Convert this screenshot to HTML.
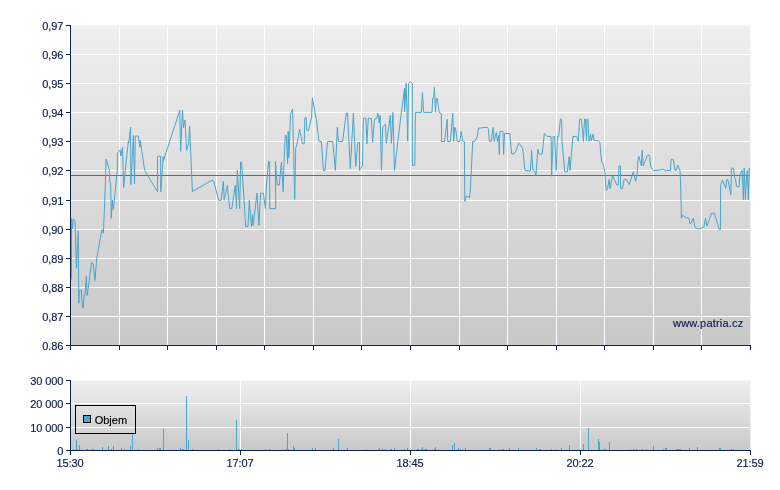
<!DOCTYPE html>
<html lang="cs"><head><meta charset="utf-8"><title>Graf</title>
<style>html,body{margin:0;padding:0;background:#fff;}body{width:780px;height:490px;overflow:hidden;}svg{display:block;}text{font-family:"Liberation Sans",sans-serif;font-size:11px;fill:#081c4a;stroke:#081c4a;stroke-width:0.15px;}</style></head><body>
<svg width="780" height="490" viewBox="0 0 780 490">
<defs><linearGradient id="g1" x1="0" y1="0" x2="0" y2="1"><stop offset="0" stop-color="#efefef"/><stop offset="1" stop-color="#c8c8c8"/></linearGradient>
<linearGradient id="g2" x1="0" y1="0" x2="0" y2="1"><stop offset="0" stop-color="#efefef"/><stop offset="1" stop-color="#c8c8c8"/></linearGradient></defs>
<rect x="0" y="0" width="780" height="490" fill="#fff"/>
<rect x="70" y="25.5" width="680.3" height="320.5" fill="url(#g1)"/>
<g fill="#fff"><rect x="119" y="25" width="1" height="320" /><rect x="167" y="25" width="1" height="320" /><rect x="216" y="25" width="1" height="320" /><rect x="264" y="25" width="1" height="320" /><rect x="313" y="25" width="1" height="320" /><rect x="361" y="25" width="1" height="320" /><rect x="410" y="25" width="1" height="320" /><rect x="459" y="25" width="1" height="320" /><rect x="507" y="25" width="1" height="320" /><rect x="556" y="25" width="1" height="320" /><rect x="604" y="25" width="1" height="320" /><rect x="653" y="25" width="1" height="320" /><rect x="701" y="25" width="1" height="320" /><rect x="70" y="54" width="680" height="1" /><rect x="70" y="83" width="680" height="1" /><rect x="70" y="112" width="680" height="1" /><rect x="70" y="141" width="680" height="1" /><rect x="70" y="170" width="680" height="1" /><rect x="70" y="200" width="680" height="1" /><rect x="70" y="229" width="680" height="1" /><rect x="70" y="258" width="680" height="1" /><rect x="70" y="287" width="680" height="1" /><rect x="70" y="316" width="680" height="1" /></g>
<rect x="70" y="175" width="680" height="1" fill="#cf4040"/>
<path d="M71.4,279.5 L71.6,218.5 L72.5,229.0 L73.2,219.0 L75.0,220.5 L76.4,268.3 L78.2,231.0 L78.8,303.2 L79.3,290.4 L81.4,290.4 L82.4,307.6 L83.4,307.6 L84.0,296.0 L85.0,294.5 L86.3,276.2 L87.2,295.5 L91.6,262.2 L93.2,263.7 L95.0,280.4 L96.8,257.6 L101.9,229.6 L103.4,233.2 L104.7,201.4 L106.2,159.0 L109.3,170.0 L109.8,183.0 L110.7,183.5 L111.2,218.3 L112.4,200.0 L113.4,209.6 L116.5,178.3 L117.3,170.0 L117.3,153.3 L120.1,149.7 L120.9,156.0 L122.5,147.2 L123.7,187.6 L125.7,167.0 L128.3,141.5 L128.8,143.0 L130.6,127.0 L130.9,184.5 L133.4,135.4 L134.5,184.0 L135.3,136.0 L138.3,136.0 L139.9,147.2 L140.3,140.5 L144.7,170.6 L157.5,191.7 L157.5,156.2 L160.6,156.2 L160.8,191.7 L163.2,156.5 L163.5,160.5 L179.8,110.2 L180.6,151.3 L182.5,110.2 L183.5,127.8 L185.0,120.0 L186.6,150.3 L188.6,143.5 L189.6,126.3 L192.4,191.5 L211.9,180.3 L213.7,181.0 L218.6,200.3 L221.1,200.3 L223.4,181.3 L224.2,200.3 L227.3,185.4 L229.7,208.7 L231.8,208.7 L235.3,185.3 L236.5,208.6 L237.3,170.3 L239.7,208.6 L240.6,162.0 L241.6,162.0 L245.7,226.5 L248.0,226.5 L249.3,200.4 L251.4,226.5 L252.4,214.7 L253.1,225.5 L257.0,193.2 L258.9,225.5 L260.6,193.2 L263.4,193.2 L265.4,208.6 L266.5,184.0 L268.6,161.5 L269.6,161.5 L269.8,208.6 L275.7,208.6 L275.4,161.5 L277.3,185.0 L279.3,185.0 L281.4,162.0 L283.2,191.7 L284.0,161.5 L285.3,135.2 L286.3,135.5 L287.6,163.5 L288.2,131.5 L288.9,157.5 L290.6,113.6 L292.6,109.2 L294.7,199.4 L295.7,148.2 L296.8,145.0 L299.6,129.4 L302.4,143.7 L304.2,143.7 L304.8,118.0 L306.2,117.6 L306.8,130.4 L308.6,130.4 L311.6,117.0 L312.4,98.0 L316.8,122.2 L318.8,141.2 L321.4,141.5 L323.4,170.5 L325.0,170.5 L327.5,141.5 L332.7,141.5 L335.4,170.5 L337.3,127.3 L338.5,141.5 L342.6,141.5 L346.3,113.0 L347.5,113.0 L350.3,168.5 L353.4,113.4 L355.7,166.4 L357.8,142.3 L359.5,142.3 L359.5,170.5 L362.4,166.0 L363.4,118.2 L365.9,118.2 L366.9,143.8 L368.3,118.2 L371.4,118.7 L372.6,142.3 L374.5,119.2 L377.0,118.2 L377.5,113.4 L378.6,115.0 L379.1,122.8 L380.1,115.6 L381.5,170.5 L382.7,127.0 L385.4,124.4 L386.3,143.3 L390.3,115.5 L391.4,143.3 L392.9,112.4 L394.5,170.5 L399.8,125.0 L404.5,88.3 L404.5,112.0 L406.2,83.4 L407.7,141.3 L408.6,83.7 L410.4,81.4 L412.3,83.7 L412.4,165.4 L414.8,165.4 L415.4,112.4 L421.4,112.4 L422.4,92.4 L423.7,112.4 L432.0,112.4 L432.7,98.4 L433.7,98.4 L434.4,87.3 L435.5,112.4 L436.3,98.4 L437.3,98.4 L439.3,112.8 L441.3,113.6 L441.6,141.5 L444.5,141.5 L447.2,119.3 L447.7,141.5 L450.4,141.5 L452.7,113.3 L453.7,141.5 L454.7,127.2 L455.5,128.0 L457.3,141.5 L459.8,141.5 L461.1,131.3 L462.7,141.0 L464.4,141.5 L464.8,201.4 L466.5,196.0 L469.6,197.6 L470.6,185.8 L472.7,141.5 L474.7,141.5 L477.3,136.4 L478.5,128.2 L487.4,127.2 L488.4,129.2 L489.4,141.3 L491.1,141.5 L493.1,127.2 L494.1,141.5 L496.3,132.3 L497.3,141.4 L498.6,135.4 L499.3,154.5 L499.8,131.4 L502.9,131.4 L503.6,154.5 L504.5,133.5 L509.8,133.5 L511.6,154.0 L514.2,153.5 L516.3,150.4 L518.6,143.2 L519.3,143.5 L522.7,148.3 L525.0,170.5 L530.4,171.0 L531.6,150.4 L532.9,170.0 L534.7,171.0 L535.9,176.2 L537.8,149.4 L539.1,154.0 L542.2,154.0 L544.3,133.5 L547.3,136.5 L551.1,136.5 L551.6,176.2 L553.2,136.5 L554.7,136.5 L556.2,170.5 L557.5,136.5 L558.6,136.5 L560.4,119.2 L561.6,119.2 L562.0,141.0 L564.7,171.5 L567.3,172.0 L569.1,156.7 L570.1,170.5 L572.9,136.3 L576.8,136.8 L578.3,141.4 L579.6,119.2 L581.4,119.2 L583.4,141.4 L584.5,119.2 L585.5,119.2 L586.5,141.0 L587.0,119.2 L587.8,119.2 L589.1,141.4 L590.6,134.2 L591.3,141.0 L593.0,134.2 L594.0,140.4 L598.3,140.7 L599.8,142.4 L601.6,162.0 L602.9,163.5 L605.0,172.7 L606.0,190.6 L607.5,189.0 L609.1,179.4 L610.1,188.6 L612.5,175.6 L616.8,185.0 L618.3,185.0 L619.0,166.0 L620.4,166.0 L620.7,188.6 L622.4,188.6 L624.2,179.4 L626.8,179.9 L629.3,184.5 L633.4,171.5 L635.7,181.4 L637.1,174.7 L637.8,160.4 L638.8,156.3 L641.4,166.0 L642.2,150.1 L643.2,166.0 L647.4,155.3 L649.5,155.3 L650.7,166.8 L653.5,170.6 L659.5,170.2 L662.9,169.1 L665.5,170.8 L670.4,170.3 L671.1,159.5 L673.2,159.3 L675.2,170.6 L676.3,170.3 L677.8,165.1 L680.1,170.8 L680.8,190.0 L681.4,218.3 L682.6,215.3 L686.5,217.8 L689.1,218.3 L689.8,223.5 L691.1,223.5 L693.2,218.3 L695.2,227.6 L698.8,229.1 L703.9,227.0 L705.5,218.3 L706.8,226.0 L711.6,213.2 L714.4,213.2 L719.3,229.6 L720.4,229.6 L720.6,185.3 L722.5,180.1 L725.7,188.3 L726.8,179.6 L727.8,179.6 L730.9,194.5 L731.4,168.1 L733.4,168.1 L734.8,178.6 L735.5,179.1 L736.5,186.3 L739.1,186.8 L740.1,173.5 L742.2,170.4 L743.4,199.6 L744.2,168.1 L745.4,199.6 L746.8,173.5 L747.3,170.4 L748.3,199.6 L749.3,168.1 L750.0,170.0" fill="none" stroke="#4aa5cb" stroke-width="1" stroke-linejoin="round"/>
<rect x="70" y="380.5" width="680.3" height="70.5" fill="url(#g2)"/>
<g fill="#fff"><rect x="240" y="380" width="1" height="70"/><rect x="410" y="380" width="1" height="70"/><rect x="580" y="380" width="1" height="70"/><rect x="70" y="403" width="680" height="1"/><rect x="70" y="427" width="680" height="1"/></g>
<g fill="#4aa5cb"><rect x="73" y="449" width="1" height="1"/><rect x="76" y="440" width="1" height="10"/><rect x="77" y="449" width="1" height="1"/><rect x="79" y="445" width="1" height="5"/><rect x="86" y="449" width="1" height="1"/><rect x="87" y="449" width="1" height="1"/><rect x="92" y="449" width="1" height="1"/><rect x="93" y="449" width="1" height="1"/><rect x="102" y="447" width="1" height="3"/><rect x="108" y="446" width="1" height="4"/><rect x="111" y="449" width="1" height="1"/><rect x="113" y="446" width="1" height="4"/><rect x="121" y="448" width="1" height="2"/><rect x="124" y="449" width="1" height="1"/><rect x="130" y="446" width="1" height="4"/><rect x="132" y="434" width="1" height="16"/><rect x="138" y="449" width="1" height="1"/><rect x="157" y="448" width="1" height="2"/><rect x="159" y="448" width="1" height="2"/><rect x="160" y="448" width="1" height="2"/><rect x="163" y="429" width="1" height="21"/><rect x="180" y="448" width="1" height="2"/><rect x="182" y="449" width="1" height="1"/><rect x="183" y="449" width="1" height="1"/><rect x="186" y="396" width="1" height="54"/><rect x="188" y="440" width="1" height="10"/><rect x="192" y="449" width="1" height="1"/><rect x="218" y="449" width="1" height="1"/><rect x="229" y="449" width="1" height="1"/><rect x="236" y="420" width="1" height="30"/><rect x="238" y="449" width="1" height="1"/><rect x="241" y="449" width="1" height="1"/><rect x="265" y="449" width="1" height="1"/><rect x="269" y="449" width="1" height="1"/><rect x="285" y="449" width="1" height="1"/><rect x="287" y="433" width="1" height="17"/><rect x="288" y="449" width="1" height="1"/><rect x="293" y="446" width="1" height="4"/><rect x="294" y="448" width="1" height="2"/><rect x="312" y="448" width="1" height="2"/><rect x="315" y="448" width="1" height="2"/><rect x="333" y="448" width="1" height="2"/><rect x="338" y="439" width="1" height="11"/><rect x="347" y="448" width="1" height="2"/><rect x="366" y="449" width="1" height="1"/><rect x="379" y="448" width="1" height="2"/><rect x="382" y="449" width="1" height="1"/><rect x="385" y="449" width="1" height="1"/><rect x="390" y="449" width="1" height="1"/><rect x="391" y="449" width="1" height="1"/><rect x="394" y="448" width="1" height="2"/><rect x="404" y="449" width="1" height="1"/><rect x="407" y="448" width="1" height="2"/><rect x="417" y="449" width="1" height="1"/><rect x="418" y="449" width="1" height="1"/><rect x="421" y="449" width="1" height="1"/><rect x="422" y="447" width="1" height="3"/><rect x="425" y="449" width="1" height="1"/><rect x="426" y="449" width="1" height="1"/><rect x="434" y="449" width="1" height="1"/><rect x="435" y="447" width="1" height="3"/><rect x="452" y="445" width="1" height="5"/><rect x="454" y="443" width="1" height="7"/><rect x="458" y="448" width="1" height="2"/><rect x="460" y="449" width="1" height="1"/><rect x="465" y="448" width="1" height="2"/><rect x="489" y="448" width="1" height="2"/><rect x="490" y="448" width="1" height="2"/><rect x="499" y="449" width="1" height="1"/><rect x="502" y="449" width="1" height="1"/><rect x="503" y="449" width="1" height="1"/><rect x="509" y="448" width="1" height="2"/><rect x="518" y="448" width="1" height="2"/><rect x="536" y="448" width="1" height="2"/><rect x="539" y="449" width="1" height="1"/><rect x="540" y="449" width="1" height="1"/><rect x="551" y="449" width="1" height="1"/><rect x="556" y="449" width="1" height="1"/><rect x="561" y="448" width="1" height="2"/><rect x="569" y="445" width="1" height="5"/><rect x="583" y="444" width="1" height="6"/><rect x="588" y="428" width="1" height="22"/><rect x="598" y="439" width="1" height="11"/><rect x="599" y="442" width="1" height="8"/><rect x="604" y="449" width="1" height="1"/><rect x="605" y="449" width="1" height="1"/><rect x="609" y="442" width="1" height="8"/><rect x="630" y="449" width="1" height="1"/><rect x="633" y="449" width="1" height="1"/><rect x="636" y="449" width="1" height="1"/><rect x="642" y="449" width="1" height="1"/><rect x="646" y="449" width="1" height="1"/><rect x="653" y="446" width="1" height="4"/><rect x="663" y="449" width="1" height="1"/><rect x="665" y="448" width="1" height="2"/><rect x="666" y="448" width="1" height="2"/><rect x="676" y="449" width="1" height="1"/><rect x="677" y="449" width="1" height="1"/><rect x="678" y="449" width="1" height="1"/><rect x="679" y="449" width="1" height="1"/><rect x="680" y="449" width="1" height="1"/><rect x="689" y="448" width="1" height="2"/><rect x="697" y="447" width="1" height="3"/><rect x="719" y="448" width="1" height="2"/><rect x="720" y="448" width="1" height="2"/><rect x="731" y="449" width="1" height="1"/><rect x="733" y="449" width="1" height="1"/></g>
<g fill="#0c2452"><rect x="70" y="25" width="1" height="321"/><rect x="70" y="345" width="681" height="1"/><rect x="70" y="345" width="1" height="5"/><rect x="119" y="345" width="1" height="5"/><rect x="167" y="345" width="1" height="5"/><rect x="216" y="345" width="1" height="5"/><rect x="264" y="345" width="1" height="5"/><rect x="313" y="345" width="1" height="5"/><rect x="361" y="345" width="1" height="5"/><rect x="410" y="345" width="1" height="5"/><rect x="459" y="345" width="1" height="5"/><rect x="507" y="345" width="1" height="5"/><rect x="556" y="345" width="1" height="5"/><rect x="604" y="345" width="1" height="5"/><rect x="653" y="345" width="1" height="5"/><rect x="701" y="345" width="1" height="5"/><rect x="750" y="345" width="1" height="5"/><rect x="66" y="25" width="4" height="1"/><rect x="66" y="54" width="4" height="1"/><rect x="66" y="83" width="4" height="1"/><rect x="66" y="112" width="4" height="1"/><rect x="66" y="141" width="4" height="1"/><rect x="66" y="170" width="4" height="1"/><rect x="66" y="200" width="4" height="1"/><rect x="66" y="229" width="4" height="1"/><rect x="66" y="258" width="4" height="1"/><rect x="66" y="287" width="4" height="1"/><rect x="66" y="316" width="4" height="1"/><rect x="66" y="345" width="4" height="1"/><rect x="70" y="380" width="1" height="71"/><rect x="70" y="450" width="681" height="1"/><rect x="70" y="450" width="1" height="5"/><rect x="240" y="450" width="1" height="5"/><rect x="410" y="450" width="1" height="5"/><rect x="580" y="450" width="1" height="5"/><rect x="750" y="450" width="1" height="5"/><rect x="66" y="380" width="4" height="1"/><rect x="66" y="403" width="4" height="1"/><rect x="66" y="427" width="4" height="1"/><rect x="66" y="450" width="4" height="1"/></g>
<rect x="75.5" y="405.5" width="60" height="28" fill="none" stroke="#000" stroke-width="1"/>
<rect x="83.5" y="415.5" width="7" height="7" fill="#4aa5cb" stroke="#000" stroke-width="1"/>
<text x="94.7" y="424" style="fill:#000;stroke:#000" textLength="32.4" lengthAdjust="spacing">Objem</text>
<text x="63.3" y="29.7" text-anchor="end" textLength="21" lengthAdjust="spacing">0,97</text>
<text x="63.3" y="58.7" text-anchor="end" textLength="21" lengthAdjust="spacing">0,96</text>
<text x="63.3" y="87.7" text-anchor="end" textLength="21" lengthAdjust="spacing">0,95</text>
<text x="63.3" y="116.7" text-anchor="end" textLength="21" lengthAdjust="spacing">0,94</text>
<text x="63.3" y="145.7" text-anchor="end" textLength="21" lengthAdjust="spacing">0,93</text>
<text x="63.3" y="174.7" text-anchor="end" textLength="21" lengthAdjust="spacing">0,92</text>
<text x="63.3" y="204.7" text-anchor="end" textLength="21" lengthAdjust="spacing">0,91</text>
<text x="63.3" y="233.7" text-anchor="end" textLength="21" lengthAdjust="spacing">0,90</text>
<text x="63.3" y="262.7" text-anchor="end" textLength="21" lengthAdjust="spacing">0,89</text>
<text x="63.3" y="291.7" text-anchor="end" textLength="21" lengthAdjust="spacing">0,88</text>
<text x="63.3" y="320.7" text-anchor="end" textLength="21" lengthAdjust="spacing">0,87</text>
<text x="63.3" y="349.7" text-anchor="end" textLength="21" lengthAdjust="spacing">0.86</text>
<text x="63.3" y="384.7" text-anchor="end" textLength="33" lengthAdjust="spacing">30 000</text>
<text x="63.3" y="407.7" text-anchor="end" textLength="33" lengthAdjust="spacing">20 000</text>
<text x="63.3" y="431.7" text-anchor="end" textLength="33" lengthAdjust="spacing">10 000</text>
<text x="63.3" y="454.7" text-anchor="end">0</text>
<text x="70" y="467" text-anchor="middle" textLength="27" lengthAdjust="spacing">15:30</text>
<text x="240" y="467" text-anchor="middle" textLength="27" lengthAdjust="spacing">17:07</text>
<text x="410" y="467" text-anchor="middle" textLength="27" lengthAdjust="spacing">18:45</text>
<text x="580" y="467" text-anchor="middle" textLength="27" lengthAdjust="spacing">20:22</text>
<text x="750" y="467" text-anchor="middle" textLength="27" lengthAdjust="spacing">21:59</text>
<text x="743.3" y="327" text-anchor="end" textLength="70.3" lengthAdjust="spacing">www.patria.cz</text>
</svg></body></html>
